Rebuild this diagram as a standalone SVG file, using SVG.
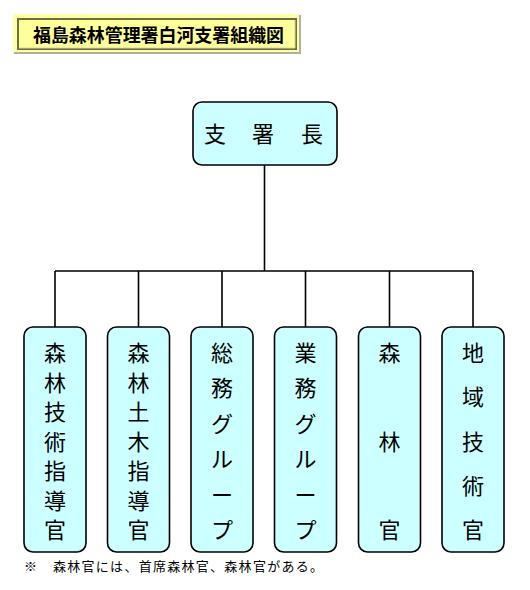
<svg xmlns="http://www.w3.org/2000/svg" width="530" height="590" viewBox="0 0 530 590">
<style>
.node{fill:#CCFFFF;stroke:#000;stroke-width:1.6}
.lbl{font-family:"Noto Sans CJK JP","Noto Sans CJK SC",sans-serif;font-size:22px;fill:#000;text-anchor:middle}
.conn{stroke:#000;stroke-width:1.6;fill:none}
.title{font-family:"Noto Sans CJK JP",sans-serif;font-size:18px;font-weight:bold;fill:#000}
.note{font-family:"Noto Sans CJK JP",sans-serif;font-size:13px;fill:#000}
</style>
<rect width="530" height="590" fill="#fff"/>
<g id="title">
<rect x="14" y="15" width="287" height="39" fill="#B0B0A0"/>
<rect x="13" y="14" width="286" height="38" fill="#FFFFA8"/>
<rect x="18" y="19" width="278" height="30" fill="#FFFF99" stroke="#6E6E40" stroke-width="2"/>
<path d="M19 48 H295 V20" stroke="#D8D8A0" stroke-width="1" fill="none"/>
<text class="title" x="33" y="42" textLength="251" lengthAdjust="spacingAndGlyphs">福島森林管理署白河支署組織図</text>
</g>
<g id="connectors">
<path class="conn" d="M264.5 165 V271 M55 271 H473 M55 271 V327 M138.5 271 V327 M222 271 V327 M305.5 271 V327 M389.5 271 V327 M473 271 V327"/>
</g>
<g id="n0">
<rect class="node" x="193" y="102" width="144" height="63" rx="9"/>
<text class="lbl" y="142"><tspan x="215">支</tspan><tspan x="263">署</tspan><tspan x="312">長</tspan></text>
</g>
<g id="n1">
<rect class="node" x="24" y="327" width="62" height="225" rx="9"/>
<text class="lbl"><tspan x="55" y="361">森</tspan><tspan x="55" y="390.5">林</tspan><tspan x="55" y="420">技</tspan><tspan x="55" y="449.5">術</tspan><tspan x="55" y="479">指</tspan><tspan x="55" y="508.5">導</tspan><tspan x="55" y="538">官</tspan></text>
</g>
<g id="n2">
<rect class="node" x="107.5" y="327" width="62" height="225" rx="9"/>
<text class="lbl"><tspan x="138.5" y="361">森</tspan><tspan x="138.5" y="390.5">林</tspan><tspan x="138.5" y="420">土</tspan><tspan x="138.5" y="449.5">木</tspan><tspan x="138.5" y="479">指</tspan><tspan x="138.5" y="508.5">導</tspan><tspan x="138.5" y="538">官</tspan></text>
</g>
<g id="n3">
<rect class="node" x="191" y="327" width="62" height="225" rx="9"/>
<text class="lbl"><tspan x="222" y="361">総</tspan><tspan x="222" y="396.4">務</tspan><tspan x="222" y="431.8">グ</tspan><tspan x="222" y="467.2">ル</tspan><tspan x="222" y="502.6">ー</tspan><tspan x="222" y="538">プ</tspan></text>
</g>
<g id="n4">
<rect class="node" x="274.5" y="327" width="62" height="225" rx="9"/>
<text class="lbl"><tspan x="305.5" y="361">業</tspan><tspan x="305.5" y="396.4">務</tspan><tspan x="305.5" y="431.8">グ</tspan><tspan x="305.5" y="467.2">ル</tspan><tspan x="305.5" y="502.6">ー</tspan><tspan x="305.5" y="538">プ</tspan></text>
</g>
<g id="n5">
<rect class="node" x="358.5" y="327" width="62" height="225" rx="9"/>
<text class="lbl"><tspan x="389.5" y="361">森</tspan><tspan x="389.5" y="449.5">林</tspan><tspan x="389.5" y="538">官</tspan></text>
</g>
<g id="n6">
<rect class="node" x="442" y="327" width="62" height="225" rx="9"/>
<text class="lbl"><tspan x="473" y="361">地</tspan><tspan x="473" y="405">域</tspan><tspan x="473" y="449.5">技</tspan><tspan x="473" y="494">術</tspan><tspan x="473" y="538">官</tspan></text>
</g>
<text class="note" y="571"><tspan x="24">※</tspan><tspan x="53" textLength="270" lengthAdjust="spacing">森林官には、首席森林官、森林官がある。</tspan></text>
</svg>
